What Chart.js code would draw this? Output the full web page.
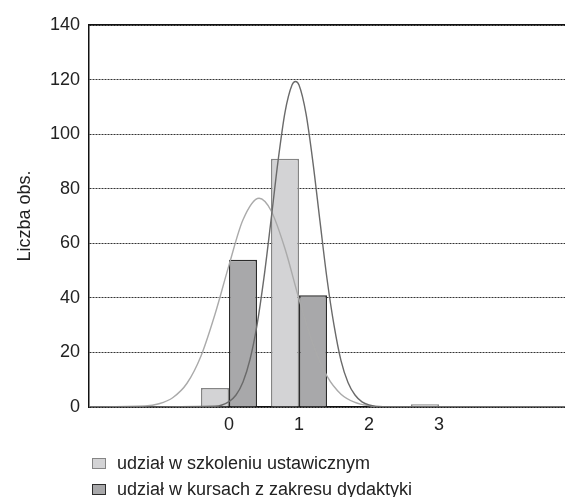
<!DOCTYPE html>
<html>
<head>
<meta charset="utf-8">
<script src="https://cdn.jsdelivr.net/npm/chart.js@4"></script>
<style>
    body { margin: 0; background: #fff; }
    #wrap { position: relative; width: 565px; height: 497px; }
    #legend { position: absolute; left: 92px; top: 450px; font: 18px "Liberation Sans", Arial, sans-serif; color: #222; }
    .legend-row { display: flex; align-items: center; height: 26px; }
    .legend-box { width: 12px; height: 9px; margin-right: 11px; border: 1.5px solid; }
</style>
</head>
<body>
<div id="wrap">
    <canvas id="chart" width="565" height="497"></canvas>
    <div id="legend"></div>
</div>
<script>
// Data
const categories = [0, 1, 2, 3];
const seriesLabels = ['udział w szkoleniu ustawicznym', 'udział w kursach z zakresu dydaktyki'];
const trainingValues = [7, 91, 0, 1];
const courseValues = [54, 41, 0, 0];

// fitted curves
const trainingCurveX = [-2, -0.2, 0, 0.1, 0.2, 0.3, 0.4, 0.5, 0.6, 0.7, 0.8, 0.9, 0.95, 1.0, 1.1, 1.2, 1.3, 1.4, 1.5, 1.6, 1.7, 1.8, 1.9, 2.0, 2.2, 4.8];
const trainingCurveY = [0, 0.3, 2, 4.4, 9.2, 17.4, 30, 47.5, 68.4, 90, 108, 118, 119.3, 118, 107.5, 89.5, 68, 47, 30, 17, 9, 4.4, 1.9, 0.8, 0.1, 0];
const courseCurveX = [-2, -1.2, -1.0, -0.8, -0.6, -0.4, -0.2, 0, 0.2, 0.43, 0.6, 0.8, 1.0, 1.2, 1.4, 1.6, 1.8, 2.0, 2.2, 4.8];
const courseCurveY = [0, 0.35, 1.2, 3.5, 8.7, 18.7, 34, 52, 68.6, 76.5, 72, 58, 39.6, 23, 11.3, 4.7, 1.7, 0.5, 0.1, 0];

const xTicks = [0, 1, 2, 3];
const yTicks = [0, 20, 40, 60, 80, 100, 120, 140];

const colors = {
    lightFill: '#d3d3d5',
    lightBorder: '#858585',
    darkFill: '#a8a8aa',
    darkBorder: '#2c2c2c',
    lightCurve: '#aaaaaa',
    darkCurve: '#6a6a6a'
};

const FONT = '"Liberation Sans", Arial, sans-serif';

function toPoints(xs, ys) {
    return xs.map((x, i) => ({ x: x, y: ys[i] }));
}

function buildLegend() {
    const legend = document.getElementById('legend');
    const fills = [[colors.lightFill, colors.lightBorder], [colors.darkFill, colors.darkBorder]];
    legend.innerHTML = seriesLabels.map((label, i) => `
        <div class="legend-row">
            <span class="legend-box" style="background:${fills[i][0]};border-color:${fills[i][1]}"></span>
            <span>${label}</span>
        </div>
    `).join('');
}

function renderChart() {
    const ctx = document.getElementById('chart');
    new Chart(ctx, {
        type: 'bar',
        data: {
            datasets: [
                {
                    type: 'line',
                    data: toPoints(trainingCurveX, trainingCurveY),
                    borderColor: colors.darkCurve,
                    borderWidth: 1.4,
                    pointRadius: 0,
                    cubicInterpolationMode: 'monotone',
                    order: 0
                },
                {
                    type: 'line',
                    data: toPoints(courseCurveX, courseCurveY),
                    borderColor: colors.lightCurve,
                    borderWidth: 1.4,
                    pointRadius: 0,
                    cubicInterpolationMode: 'monotone',
                    order: 0
                },
                {
                    label: seriesLabels[0],
                    data: toPoints(categories, trainingValues),
                    backgroundColor: colors.lightFill,
                    borderColor: colors.lightBorder,
                    borderWidth: 1.5,
                    order: 1
                },
                {
                    label: seriesLabels[1],
                    data: toPoints(categories, courseValues),
                    backgroundColor: colors.darkFill,
                    borderColor: colors.darkBorder,
                    borderWidth: 1.5,
                    order: 1
                }
            ]
        },
        options: {
            responsive: false,
            animation: false,
            devicePixelRatio: 1,
            categoryPercentage: 0.8,
            barPercentage: 1,
            layout: { padding: { left: 0, top: 25, right: 0, bottom: 50 } },
            plugins: {
                legend: { display: false },
                tooltip: { enabled: false }
            },
            scales: {
                x: {
                    type: 'linear',
                    position: 'bottom',
                    min: -2,
                    max: 4.8,
                    offset: false,
                    grid: { display: false, drawTicks: false, offset: false },
                    border: { display: true, color: '#111', width: 1.5 },
                    ticks: { font: { size: 18, family: FONT }, color: '#222', padding: 7 },
                    afterBuildTicks: scale => { scale.ticks = xTicks.map(v => ({ value: v })); },
                    afterFit: scale => { scale.height = 40; }
                },
                x2: {
                    type: 'linear',
                    position: 'top',
                    min: -2,
                    max: 4.8,
                    offset: false,
                    grid: { display: false, drawTicks: false, offset: false },
                    border: { display: true, color: '#111', width: 1.5 },
                    ticks: { display: false },
                    afterFit: scale => { scale.height = 0; }
                },
                y: {
                    min: 0,
                    max: 140,
                    grid: { color: '#333', lineWidth: 1, drawTicks: false },
                    border: { display: true, color: '#111', width: 1.5, dash: [2, 1] },
                    ticks: { font: { size: 18, family: FONT }, color: '#222', padding: 9 },
                    afterBuildTicks: scale => { scale.ticks = yTicks.map(v => ({ value: v })); },
                    afterFit: scale => { scale.width = 89; },
                    title: {
                        display: true,
                        text: 'Liczba obs.',
                        font: { size: 18, family: FONT },
                        color: '#222',
                        padding: { top: 14, bottom: 0 }
                    }
                }
            }
        }
    });
}

buildLegend();
renderChart();
</script>
</body>
</html>
